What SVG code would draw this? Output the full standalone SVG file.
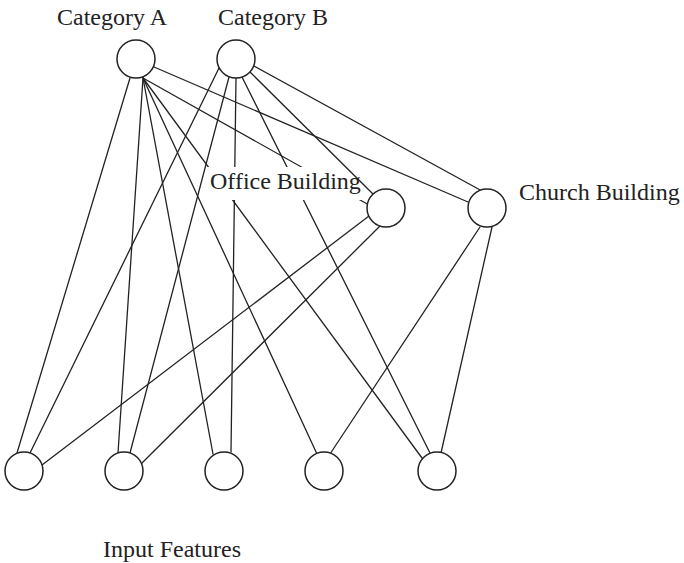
<svg xmlns="http://www.w3.org/2000/svg" width="684" height="563" viewBox="0 0 684 563">
<style>
.e{stroke:#222;stroke-width:1.3;fill:none;stroke-linecap:round}
.n{fill:#fff;stroke:#222;stroke-width:1.5}
.t{font-family:"Liberation Serif","Times New Roman",serif;font-size:24px;fill:#222}
</style>
<rect width="684" height="563" fill="#fff"/>
<g id="connectors">
<line class="e" x1="130" y1="78" x2="17" y2="453"/>
<line class="e" x1="143" y1="78" x2="118" y2="453"/>
<line class="e" x1="143" y1="78" x2="213" y2="454"/>
<line class="e" x1="143" y1="78" x2="317" y2="454"/>
<line class="e" x1="143" y1="78" x2="422" y2="458"/>
<line class="e" x1="143" y1="78" x2="369" y2="205"/>
<line class="e" x1="154" y1="67" x2="468" y2="202"/>
<line class="e" x1="220" y1="66" x2="30" y2="453"/>
<line class="e" x1="229" y1="77" x2="130" y2="453"/>
<line class="e" x1="236" y1="78" x2="231" y2="452"/>
<line class="e" x1="242" y1="77" x2="430" y2="453"/>
<line class="e" x1="250" y1="72" x2="373" y2="194"/>
<line class="e" x1="254" y1="66" x2="482" y2="191"/>
<line class="e" x1="369" y1="216" x2="42" y2="465"/>
<line class="e" x1="380" y1="226" x2="142" y2="463"/>
<line class="e" x1="480" y1="227" x2="330" y2="454"/>
<line class="e" x1="492" y1="227" x2="441" y2="453"/>
</g>
<g id="catA"><circle class="n" cx="136" cy="59" r="19"/><text class="t" x="57" y="25">Category A</text></g>
<g id="catB"><circle class="n" cx="236" cy="59" r="19"/><text class="t" x="218" y="25">Category B</text></g>
<g id="office"><polygon points="207,167 343,167 376,200 207,200" fill="#fff"/><text class="t" x="210" y="189">Office Building</text><circle class="n" cx="386" cy="208" r="19"/></g>
<g id="church"><circle class="n" cx="487" cy="208" r="19"/><text class="t" x="519" y="200">Church Building</text></g>
<g id="in1"><circle class="n" cx="24" cy="471" r="19"/></g>
<g id="in2"><circle class="n" cx="124" cy="471" r="19"/></g>
<g id="in3"><circle class="n" cx="224" cy="471" r="19"/></g>
<g id="in4"><circle class="n" cx="324" cy="471" r="19"/></g>
<g id="in5"><circle class="n" cx="437" cy="471" r="19"/></g>
<g id="inputLabel"><text class="t" x="103" y="557">Input Features</text></g>
</svg>
